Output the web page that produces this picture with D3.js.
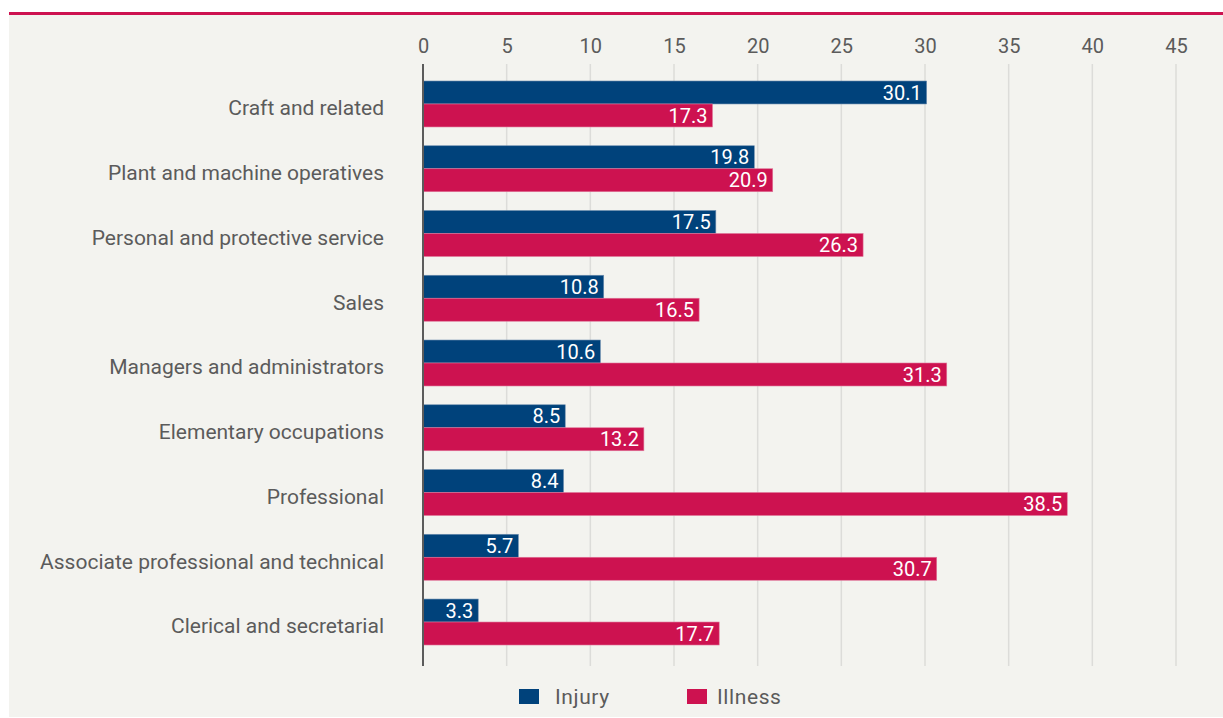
<!DOCTYPE html>
<html>
<head>
<meta charset="utf-8">
<script src="https://cdn.jsdelivr.net/npm/d3@7"></script>
<style>
  body { margin: 0; background: #fff; }
  text { font-family: Roboto, "Noto Sans", sans-serif; }
</style>
</head>
<body>
<div id="chart"></div>
<script>
// occupations, top to bottom
const categories = [
  "Craft and related",
  "Plant and machine operatives",
  "Personal and protective service",
  "Sales",
  "Managers and administrators",
  "Elementary occupations",
  "Professional",
  "Associate professional and technical",
  "Clerical and secretarial"
];
const injury  = [30.1, 19.8, 17.5, 10.8, 10.6, 8.5, 8.4, 5.7, 3.3];
const illness = [17.3, 20.9, 26.3, 16.5, 31.3, 13.2, 38.5, 30.7, 17.7];
const seriesNames = ["Injury", "Illness"];
const ticks = [0, 5, 10, 15, 20, 25, 30, 35, 40, 45];

let width = 1223,
    height = 718,
    margin = ({ top: 64, right: 47, bottom: 52, left: 423 });

const colors = { Injury: "#00427b", Illness: "#cd1250" };
const textGrey = "#5b5b5b";

const svg = d3.select("#chart")
  .append("svg")
  .attr("width", width)
  .attr("height", height);

// panel + red rule on top
svg.append("rect")
  .attr("x", 9).attr("y", 15)
  .attr("width", width - 9).attr("height", 702)
  .attr("fill", "#f3f3ef");
svg.append("rect")
  .attr("x", 9).attr("y", 12)
  .attr("width", width - 9).attr("height", 3)
  .attr("fill", "#cd1250");

let x = d3.scaleLinear()
  .domain([0, 45])
  .range([margin.left, 1176]);

let y = d3.scaleBand()
  .domain(categories)
  .range([71.6, 654.4])
  .paddingInner(0.29)
  .paddingOuter(0.145);

let ySub = d3.scaleBand()
  .domain(seriesNames)
  .range([0, y.bandwidth()]);

// grid lines + top labels
const xAxis = svg.append("g")
  .attr("transform", `translate(0,${margin.top})`)
  .call(d3.axisTop(x).tickValues(ticks).tickSize(0).tickPadding(11))
  .call(g => g.select(".domain").remove());
xAxis.selectAll("text")
  .attr("fill", textGrey)
  .attr("font-size", 20);

svg.append("g")
  .selectAll("line")
  .data(ticks.slice(1))
  .join("line")
  .attr("x1", d => x(d)).attr("x2", d => x(d))
  .attr("y1", margin.top).attr("y2", 666)
  .attr("stroke", "#dcdcd9")
  .attr("stroke-width", 1.5);

// category labels
svg.append("g")
  .selectAll("text")
  .data(categories)
  .join("text")
  .attr("x", 384)
  .attr("y", d => y(d) + y.bandwidth() / 2 + 4)
  .attr("dy", "0.35em")
  .attr("text-anchor", "end")
  .attr("fill", textGrey)
  .attr("font-size", 21)
  .text(d => d);

const rows = categories.map((c, i) => ({ cat: c, Injury: injury[i], Illness: illness[i] }));

const groups = svg.append("g")
  .selectAll("g")
  .data(rows)
  .join("g")
  .attr("transform", d => `translate(0,${y(d.cat)})`);

const bars = groups.selectAll("g")
  .data(d => seriesNames.map(s => ({ key: s, value: d[s] })))
  .join("g");

bars.append("rect")
  .attr("x", x(0))
  .attr("y", d => ySub(d.key))
  .attr("width", d => x(d.value) - x(0))
  .attr("height", ySub.bandwidth())
  .attr("fill", d => colors[d.key])
  .attr("stroke", d => d.key === "Injury" ? "#6f8fb0" : "#e0779a")
  .attr("stroke-width", 0.6);

bars.append("text")
  .attr("x", d => x(d.value) - 5)
  .attr("y", d => ySub(d.key) + ySub.bandwidth() / 2)
  .attr("dy", "0.36em")
  .attr("text-anchor", "end")
  .attr("fill", "#fff")
  .attr("font-size", 20)
  .text(d => d.value.toFixed(1));

// axis line at zero
svg.append("line")
  .attr("x1", x(0)).attr("x2", x(0))
  .attr("y1", margin.top).attr("y2", 666)
  .attr("stroke", "#5b5b5b")
  .attr("stroke-width", 2);

// legend
const legendX = [519, 687];
const legend = svg.append("g")
  .selectAll("g")
  .data(seriesNames)
  .join("g")
  .attr("transform", (d, i) => `translate(${legendX[i]},689)`);

legend.append("rect")
  .attr("width", 20).attr("height", 15)
  .attr("fill", d => colors[d]);

legend.append("text")
  .attr("x", (d, i) => i === 0 ? 36 : 30)
  .attr("y", 15)
  .attr("fill", textGrey)
  .attr("font-size", 21)
  .attr("letter-spacing", 0.6)
  .text(d => d);
</script>
</body>
</html>
